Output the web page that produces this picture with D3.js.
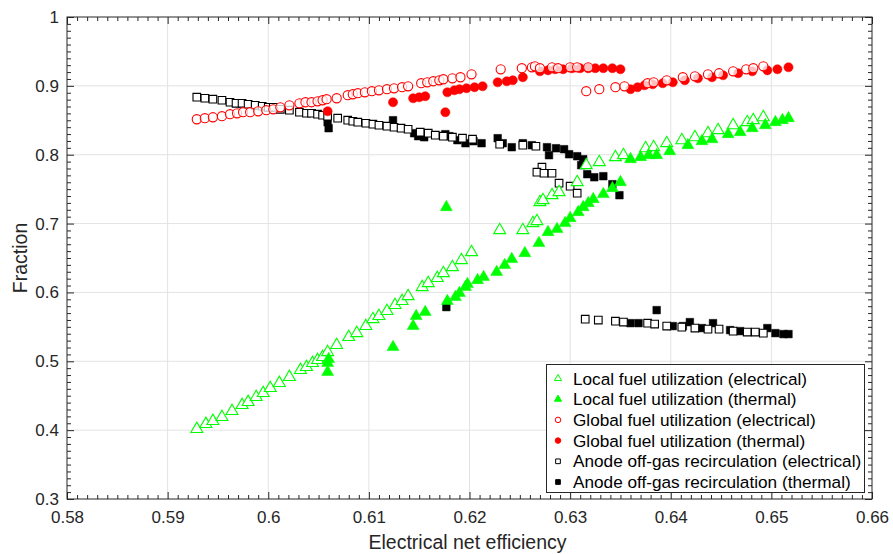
<!DOCTYPE html>
<html>
<head>
<meta charset="utf-8">
<script src="https://cdn.jsdelivr.net/npm/d3@7"></script>
<style>
  html, body { margin: 0; padding: 0; background: #fff; }
  svg { display: block; font-family: "Liberation Sans", Arial, Helvetica, sans-serif; }
</style>
</head>
<body>
<svg id="chart" width="893" height="554"></svg>
<script>
// Axis ticks
const xTicks = [0.58, 0.59, 0.60, 0.61, 0.62, 0.63, 0.64, 0.65, 0.66];
const xTickLabels = ["0.58", "0.59", "0.6", "0.61", "0.62", "0.63", "0.64", "0.65", "0.66"];
const yTicks = [0.3, 0.4, 0.5, 0.6, 0.7, 0.8, 0.9, 1.0];
const yTickLabels = ["0.3", "0.4", "0.5", "0.6", "0.7", "0.8", "0.9", "1"];

// Local fuel utilization (electrical) : [efficiency, fraction]
const localElectrical = [
  [0.5929,0.4016],[0.5938,0.4089],[0.5945,0.4132],[0.5954,0.4190],[0.5964,0.4277],[0.5974,0.4364],
  [0.5980,0.4408],[0.5988,0.4480],[0.5995,0.4538],[0.6002,0.4611],[0.6011,0.4684],[0.6021,0.4771],
  [0.6032,0.4872],[0.6038,0.4916],[0.6044,0.4974],[0.6049,0.5017],[0.6054,0.5061],[0.6059,0.5133],
  [0.6068,0.5235],[0.6080,0.5351],[0.6088,0.5409],[0.6097,0.5511],[0.6104,0.5612],[0.6110,0.5656],
  [0.6118,0.5729],[0.6126,0.5816],[0.6133,0.5874],[0.6139,0.5946],[0.6153,0.6077],[0.6159,0.6135],
  [0.6168,0.6208],[0.6174,0.6280],[0.6183,0.6367],[0.6192,0.6469],[0.6202,0.6585],
  [0.6230,0.6904],[0.6253,0.6904],[0.6263,0.7006],[0.6267,0.7035],[0.6270,0.7311],[0.6273,0.7340],
  [0.6282,0.7412],[0.6289,0.7456],[0.6307,0.7601],[0.6316,0.7848],[0.6329,0.7891],[0.6345,0.7964],
  [0.6353,0.7993],[0.6375,0.8094],[0.6383,0.8109],[0.6396,0.8167],[0.6411,0.8210],[0.6424,0.8254],
  [0.6437,0.8312],[0.6447,0.8356],[0.6462,0.8428],[0.6476,0.8472],[0.6482,0.8501],[0.6492,0.8544]
];

// Local fuel utilization (thermal)
const localThermal = [
  [0.6059,0.4843],[0.6059,0.4974],[0.6060,0.5032],[0.6124,0.5206],[0.6144,0.5511],[0.6147,0.5656],
  [0.6156,0.5714],[0.6177,0.7238],[0.6178,0.5874],[0.6186,0.5932],[0.6190,0.5990],[0.6196,0.6077],
  [0.6198,0.6120],[0.6208,0.6178],[0.6214,0.6222],[0.6227,0.6295],[0.6235,0.6396],[0.6242,0.6483],
  [0.6255,0.6570],[0.6269,0.6716],[0.6278,0.6875],[0.6287,0.6919],[0.6295,0.7006],[0.6300,0.7078],
  [0.6308,0.7165],[0.6313,0.7238],[0.6318,0.7296],[0.6323,0.7354],[0.6333,0.7427],[0.6342,0.7514],
  [0.6350,0.7601],[0.6360,0.7935],[0.6370,0.7964],[0.6378,0.7993],[0.6386,0.7993],[0.6399,0.8051],
  [0.6417,0.8138],[0.6431,0.8196],[0.6441,0.8225],[0.6457,0.8298],[0.6469,0.8327],[0.6481,0.8385],
  [0.6494,0.8428],[0.6504,0.8472],[0.6511,0.8501],[0.6517,0.8530]
];

// Global fuel utilization (electrical)
const globalElectrical = [
  [0.5929,0.8515],[0.5937,0.8530],[0.5945,0.8544],[0.5954,0.8559],[0.5962,0.8588],[0.5969,0.8602],
  [0.5975,0.8617],[0.5982,0.8617],[0.5990,0.8631],[0.5998,0.8646],[0.6005,0.8660],[0.6012,0.8689],
  [0.6021,0.8718],[0.6031,0.8747],[0.6037,0.8762],[0.6043,0.8762],[0.6049,0.8776],[0.6054,0.8791],
  [0.6058,0.8806],[0.6068,0.8820],[0.6079,0.8864],[0.6084,0.8878],[0.6089,0.8893],[0.6096,0.8907],
  [0.6103,0.8922],[0.6110,0.8936],[0.6118,0.8951],[0.6125,0.8965],[0.6133,0.8980],[0.6139,0.8994],
  [0.6152,0.9038],[0.6158,0.9052],[0.6164,0.9067],[0.6170,0.9081],[0.6174,0.9096],[0.6183,0.9110],
  [0.6191,0.9125],[0.6202,0.9168],[0.6231,0.9241],[0.6252,0.9256],[0.6262,0.9270],[0.6265,0.9284],
  [0.6270,0.9256],[0.6282,0.9270],[0.6288,0.9256],[0.6300,0.9270],[0.6307,0.9270],[0.6318,0.9270],
  [0.6316,0.8922],[0.6329,0.8951],[0.6345,0.8980],[0.6354,0.8994],[0.6377,0.9038],[0.6383,0.9052],
  [0.6396,0.9081],[0.6412,0.9125],[0.6424,0.9139],[0.6437,0.9168],[0.6448,0.9183],[0.6462,0.9212],
  [0.6475,0.9241],[0.6482,0.9256],[0.6492,0.9284]
];

// Global fuel utilization (thermal)
const globalThermal = [
  [0.6059,0.8631],[0.6124,0.8762],[0.6144,0.8820],[0.6150,0.8834],[0.6156,0.8849],[0.6176,0.8617],
  [0.6178,0.8907],[0.6185,0.8936],[0.6190,0.8951],[0.6197,0.8965],[0.6205,0.8980],[0.6213,0.8994],
  [0.6228,0.9052],[0.6237,0.9067],[0.6243,0.9081],[0.6253,0.9125],[0.6270,0.9212],[0.6278,0.9226],
  [0.6285,0.9241],[0.6293,0.9241],[0.6302,0.9256],[0.6310,0.9256],[0.6318,0.9256],[0.6325,0.9256],
  [0.6333,0.9256],[0.6342,0.9256],[0.6350,0.9241],[0.6360,0.8951],[0.6367,0.8980],[0.6374,0.9009],
  [0.6382,0.9023],[0.6392,0.9038],[0.6402,0.9052],[0.6414,0.9081],[0.6427,0.9110],[0.6441,0.9125],
  [0.6452,0.9154],[0.6467,0.9183],[0.6481,0.9212],[0.6496,0.9226],[0.6506,0.9241],[0.6517,0.9270]
];

// Anode off-gas recirculation (electrical)
const anodeElectrical = [
  [0.5929,0.8835],[0.5937,0.8820],[0.5945,0.8806],[0.5954,0.8791],[0.5962,0.8762],[0.5968,0.8747],
  [0.5974,0.8747],[0.5980,0.8733],[0.5987,0.8718],[0.5994,0.8704],[0.6000,0.8689],[0.6005,0.8689],
  [0.6012,0.8660],[0.6021,0.8646],[0.6031,0.8617],[0.6038,0.8602],[0.6043,0.8602],[0.6049,0.8588],
  [0.6054,0.8573],[0.6059,0.8559],[0.6069,0.8530],[0.6079,0.8501],[0.6084,0.8486],[0.6089,0.8472],
  [0.6097,0.8457],[0.6104,0.8443],[0.6110,0.8428],[0.6118,0.8414],[0.6125,0.8399],[0.6132,0.8385],
  [0.6139,0.8370],[0.6151,0.8327],[0.6159,0.8312],[0.6166,0.8283],[0.6174,0.8269],[0.6183,0.8254],
  [0.6193,0.8240],[0.6203,0.8225],[0.6230,0.8152],[0.6253,0.8138],[0.6266,0.8123],[0.6272,0.7819],
  [0.6267,0.7746],[0.6274,0.7731],[0.6282,0.7731],[0.6289,0.7586],[0.6300,0.7543],[0.6307,0.7441],
  [0.6315,0.5612],[0.6328,0.5598],[0.6345,0.5583],[0.6353,0.5569],[0.6377,0.5554],[0.6384,0.5540],
  [0.6396,0.5511],[0.6411,0.5496],[0.6424,0.5482],[0.6437,0.5467],[0.6448,0.5467],[0.6462,0.5438],
  [0.6476,0.5424],[0.6484,0.5424],[0.6492,0.5409]
];

// Anode off-gas recirculation (thermal)
const anodeThermal = [
  [0.6059,0.8472],[0.6060,0.8385],[0.6124,0.8501],[0.6145,0.8312],[0.6149,0.8269],[0.6155,0.8254],
  [0.6176,0.8298],[0.6180,0.8269],[0.6188,0.8211],[0.6196,0.8167],[0.6204,0.8196],[0.6212,0.8167],
  [0.6228,0.8240],[0.6233,0.8167],[0.6242,0.8109],[0.6253,0.8167],[0.6262,0.8138],[0.6277,0.8109],
  [0.6279,0.7993],[0.6286,0.8094],[0.6294,0.8080],[0.6299,0.8007],[0.6307,0.7978],[0.6313,0.7935],
  [0.6311,0.7848],[0.6317,0.7717],[0.6324,0.7673],[0.6333,0.7688],[0.6342,0.7572],[0.6349,0.7412],
  [0.6177,0.5787],[0.6360,0.5554],[0.6368,0.5554],[0.6386,0.5743],[0.6402,0.5511],[0.6412,0.5511],
  [0.6419,0.5569],[0.6431,0.5482],[0.6442,0.5554],[0.6459,0.5453],[0.6469,0.5438],[0.6496,0.5482],
  [0.6504,0.5409],[0.6512,0.5395],[0.6517,0.5395]
];

const seriesNames = [
  "Local fuel utilization (electrical)",
  "Local fuel utilization (thermal)",
  "Global fuel utilization (electrical)",
  "Global fuel utilization (thermal)",
  "Anode off-gas recirculation (electrical)",
  "Anode off-gas recirculation (thermal)"
];

const svg = d3.select("#chart");
const margin = { left: 67, right: 872, top: 17, bottom: 499 };
const x = d3.scaleLinear().domain([0.58, 0.66]).range([margin.left, margin.right]);
const y = d3.scaleLinear().domain([0.3, 1.0]).range([margin.bottom, margin.top]);
const axisColor = "#262626";

// Grid
const grid = svg.append("g");
grid.selectAll("line.gx").data(xTicks.slice(1, -1)).join("line")
  .attr("x1", d => x(d)).attr("x2", d => x(d))
  .attr("y1", margin.top).attr("y2", margin.bottom)
  .attr("stroke", "#e3e3e3").attr("stroke-width", 1);
grid.selectAll("line.gy").data(yTicks.slice(1, -1)).join("line")
  .attr("y1", d => y(d)).attr("y2", d => y(d))
  .attr("x1", margin.left).attr("x2", margin.right)
  .attr("stroke", "#e3e3e3").attr("stroke-width", 1);

// Minor tick values
const xMinor = d3.range(0, 81).map(i => 0.58 + i * 0.001).filter((v, i) => i % 10 !== 0);
const yMinor = d3.range(0, 71).map(i => 0.3 + i * 0.01).filter((v, i) => i % 10 !== 0);

function styleAxis(g) {
  g.select(".domain").remove();
  g.selectAll(".tick line").attr("stroke", axisColor);
  g.selectAll(".tick text").attr("fill", axisColor).style("font-size", "17px");
}

// Bottom / top axes
svg.append("g").attr("transform", `translate(0,${margin.bottom})`)
  .call(d3.axisBottom(x).tickValues(xTicks).tickFormat((d, i) => xTickLabels[i]).tickSize(-7).tickPadding(12))
  .call(styleAxis);
svg.append("g").attr("transform", `translate(0,${margin.bottom})`)
  .call(d3.axisBottom(x).tickValues(xMinor).tickFormat("").tickSize(-4))
  .call(styleAxis);
svg.append("g").attr("transform", `translate(0,${margin.top})`)
  .call(d3.axisTop(x).tickValues(xTicks).tickFormat("").tickSize(-7))
  .call(styleAxis);
svg.append("g").attr("transform", `translate(0,${margin.top})`)
  .call(d3.axisTop(x).tickValues(xMinor).tickFormat("").tickSize(-4))
  .call(styleAxis);

// Left / right axes
svg.append("g").attr("transform", `translate(${margin.left},0)`)
  .call(d3.axisLeft(y).tickValues(yTicks).tickFormat((d, i) => yTickLabels[i]).tickSize(-7).tickPadding(8))
  .call(styleAxis);
svg.append("g").attr("transform", `translate(${margin.left},0)`)
  .call(d3.axisLeft(y).tickValues(yMinor).tickFormat("").tickSize(-4))
  .call(styleAxis);
svg.append("g").attr("transform", `translate(${margin.right},0)`)
  .call(d3.axisRight(y).tickValues(yTicks).tickFormat("").tickSize(-7))
  .call(styleAxis);
svg.append("g").attr("transform", `translate(${margin.right},0)`)
  .call(d3.axisRight(y).tickValues(yMinor).tickFormat("").tickSize(-4))
  .call(styleAxis);

// Plot box
svg.append("rect")
  .attr("x", margin.left).attr("y", margin.top)
  .attr("width", margin.right - margin.left).attr("height", margin.bottom - margin.top)
  .attr("fill", "none").attr("stroke", axisColor).attr("stroke-width", 1);

// Axis titles
svg.append("text")
  .attr("x", (margin.left + margin.right) / 2 - 2).attr("y", 549)
  .attr("text-anchor", "middle").attr("fill", axisColor).style("font-size", "19.5px")
  .text("Electrical net efficiency");
svg.append("text")
  .attr("transform", `translate(27,${(margin.top + margin.bottom) / 2}) rotate(-90)`)
  .attr("text-anchor", "middle").attr("fill", axisColor).style("font-size", "19.5px")
  .text("Fraction");

// Marker definitions
const GREEN = "#00ff00", RED = "#ff0000", BLACK = "#000000";
const styles = [
  { data: localElectrical,  type: d3.symbolTriangle, size: 62, color: GREEN, filled: false, fillOpacity: 1 },
  { data: localThermal,     type: d3.symbolTriangle, size: 62, color: GREEN, filled: true,  fillOpacity: 1 },
  { data: globalElectrical, type: d3.symbolCircle,   size: 66, color: RED,   filled: false, fillOpacity: 0.75 },
  { data: globalThermal,    type: d3.symbolCircle,   size: 66, color: RED,   filled: true,  fillOpacity: 1 },
  { data: anodeElectrical,  type: d3.symbolSquare,   size: 58, color: BLACK, filled: false, fillOpacity: 1 },
  { data: anodeThermal,     type: d3.symbolSquare,   size: 58, color: BLACK, filled: true,  fillOpacity: 1 }
];

// Drawing order: squares, circles, then triangles on top
const drawOrder = [5, 4, 3, 2, 0, 1];
const plot = svg.append("g");
drawOrder.forEach(i => {
  const s = styles[i];
  const sym = d3.symbol().type(s.type).size(s.size);
  plot.append("g").selectAll("path").data(s.data).join("path")
    .attr("d", sym)
    .attr("transform", d => `translate(${x(d[0])},${y(d[1])})`)
    .attr("fill", s.filled ? s.color : "#ffffff")
    .attr("fill-opacity", s.fillOpacity)
    .attr("stroke", s.color)
    .attr("stroke-width", s.filled ? 0.5 : 1.1);
});

// Legend
const legend = svg.append("g");
legend.append("rect")
  .attr("x", 546.5).attr("y", 364.5).attr("width", 318).attr("height", 128)
  .attr("fill", "#ffffff").attr("stroke", axisColor).attr("stroke-width", 1);
const legendSizes = [22, 22, 24, 24, 22, 22];
seriesNames.forEach((name, i) => {
  const s = styles[i];
  const cy = 378.5 + i * 20.7;
  legend.append("path")
    .attr("d", d3.symbol().type(s.type).size(legendSizes[i]))
    .attr("transform", `translate(558,${cy})`)
    .attr("fill", s.filled ? s.color : "#ffffff")
    .attr("stroke", s.color)
    .attr("stroke-width", 1);
  legend.append("text")
    .attr("x", 573).attr("y", cy).attr("dy", "0.36em")
    .attr("fill", "#000").style("font-size", "17.2px")
    .text(name);
});
</script>
</body>
</html>
